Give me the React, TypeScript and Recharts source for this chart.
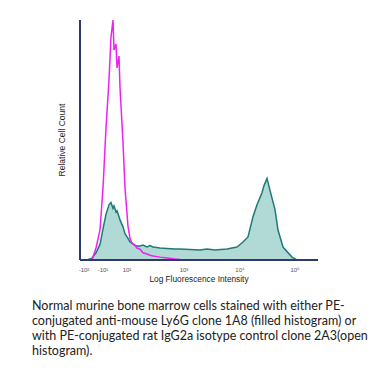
import { ComposedChart, Area, Line, XAxis, YAxis, Label } from 'recharts'

// channel positions (display scale) shared by both histograms
const channels = [
  0, 7, 12, 16, 20, 23, 26, 29, 31, 33, 34, 36, 37, 39, 40, 43, 45, 48, 50, 52, 55, 57, 60, 63, 67,
  70, 73, 80, 87, 95, 100, 110, 120, 127, 135, 147, 157, 163, 168, 173, 177, 182, 184, 187, 190,
  195, 198, 203, 212, 217, 238,
]

// PE-conjugated rat IgG2a isotype control (open histogram)
const isotype = [
  0, 0, 0, 5, 12.5, 30, 55, 75, 93, 100, 87.5, 90, 80, 85, 72, 49, 30, 14, 9, 7, 6, 5, 4.5, 3, 2.5,
  2, 1.7, 1.2, 0.8, 0.4, 0.2, 0, 0, 0, 0, 0, 0, 0, 0, 0, 0, 0, 0, 0, 0, 0, 0, 0, 0, 0, 0,
]

// anti-mouse Ly6G clone 1A8 (filled histogram)
const ly6g = [
  0, 0, 0.8, 3, 6.5, 13, 19, 23, 24, 21.5, 22.5, 20, 20.5, 18, 16.7, 13.8, 11, 9, 7.5, 7, 6.2, 5.8,
  5.8, 6.2, 5.4, 6, 5.4, 5, 4.8, 4.6, 4.6, 4.4, 4.2, 4.6, 4.2, 4.6, 5.4, 7.5, 9.6, 18, 23, 28, 31,
  34, 29, 21, 12.5, 5.4, 1.2, 0, 0,
]

const tickPos = [4, 23, 47, 104, 160, 215]
const tickLabels = ['-10²', '-10¹', '10²', '10³', '10⁴', '10⁵']

const captionLines = [
  'Normal murine bone marrow cells stained with either PE-',
  'conjugated anti-mouse Ly6G clone 1A8 (filled histogram) or',
  'with PE-conjugated rat IgG2a isotype control clone 2A3(open',
  'histogram).',
]

const data = channels.map((ch, i) => ({ ch, iso: isotype[i], ly: ly6g[i] }))

export default function App() {
  return (
    <div
      style={{
        position: 'absolute',
        left: 0,
        top: 0,
        width: 380,
        height: 373,
        background: '#fff',
        fontFamily: 'Arial, "Liberation Sans", sans-serif',
      }}
    >
      <ComposedChart width={380} height={285} data={data} margin={{ top: 20, right: 62, bottom: 0, left: 60 }}>
        <XAxis
          dataKey="ch"
          type="number"
          domain={[0, 238]}
          ticks={tickPos}
          tickFormatter={(v) => tickLabels[tickPos.indexOf(v)] ?? ''}
          tick={{ fontSize: 6, fill: '#555' }}
          tickLine={false}
          axisLine={{ stroke: '#2e3a6b', strokeWidth: 2 }}
          height={25}
          interval={0}
        >
          <Label value="Log Fluorescence Intensity" position="insideBottom" offset={3} style={{ fontSize: 8.3, fill: '#222' }} />
        </XAxis>
        <YAxis
          type="number"
          domain={[0, 100]}
          width={20}
          tick={false}
          tickLine={false}
          axisLine={{ stroke: '#2e3a6b', strokeWidth: 2 }}
        >
          <Label value="Relative Cell Count" angle={-90} position="center" dx={-8} style={{ fontSize: 8.5, fill: '#222' }} />
        </YAxis>
        <Area
          type="linear"
          dataKey="ly"
          stroke="#1f7b74"
          strokeWidth={1.5}
          fill="#a9d6d1"
          fillOpacity={0.9}
          isAnimationActive={false}
          dot={false}
        />
        <Line
          type="linear"
          dataKey="iso"
          stroke="#ee22ee"
          strokeWidth={1.5}
          dot={false}
          isAnimationActive={false}
        />
      </ComposedChart>
      <div
        style={{
          position: 'absolute',
          left: 32,
          top: 298,
          fontSize: 12.5,
          lineHeight: '15px',
          color: '#222',
          whiteSpace: 'nowrap',
          fontFamily: 'Lato, sans-serif',
        }}
      >
        {captionLines.map((t, i) => (
          <div key={i}>{t}</div>
        ))}
      </div>
    </div>
  )
}
